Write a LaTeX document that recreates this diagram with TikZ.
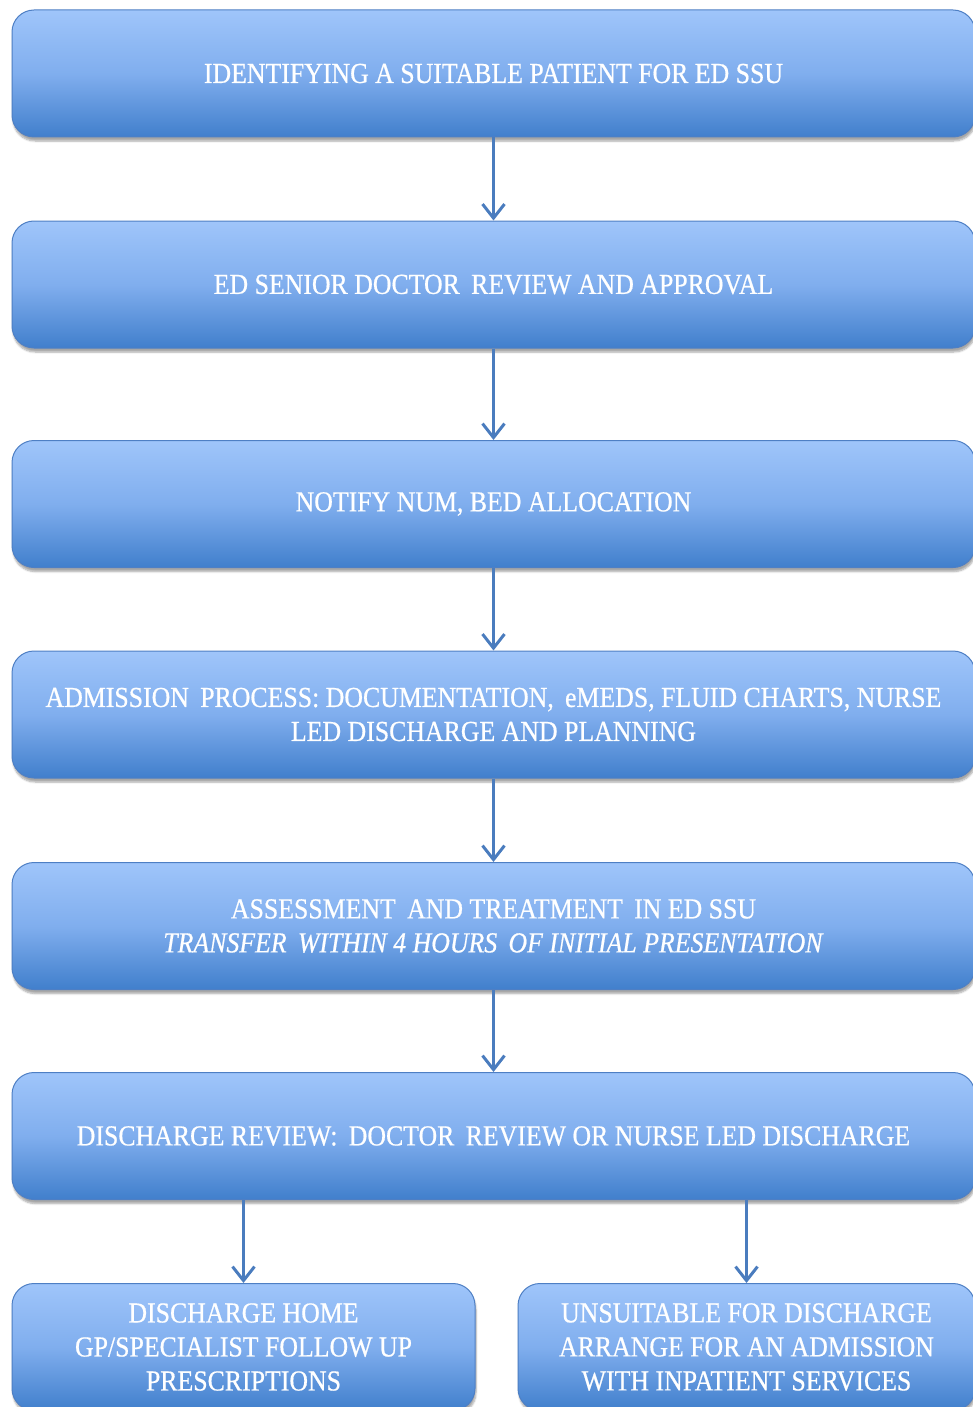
\documentclass[tikz,border=0pt]{standalone}
\usepackage{fontspec}
\setmainfont{Liberation Serif}[FakeStretch=0.89, FakeBold=0.6]
\usetikzlibrary{arrows.meta,shadows.blur}

\definecolor{boxtop}{HTML}{9FC5FA}
\definecolor{boxmid}{HTML}{80AEEE}
\definecolor{boxbot}{HTML}{417FCC}
\definecolor{boxedge}{HTML}{4E7FC4}
\definecolor{flowline}{HTML}{4A7CBE}

\tikzset{
	stage/.style={rectangle, rounded corners=22pt, draw=boxedge, line width=1pt,
		top color=boxtop, bottom color=boxbot, middle color=boxmid,
		text=white, font=\fontsize{29}{34}\selectfont, align=center,
		minimum height=127pt, inner sep=0pt,
		blur shadow={shadow xshift=1pt, shadow yshift=-4pt, shadow blur steps=6, shadow opacity=35}},
	flow/.style={draw=flowline, line width=3pt, -{Straight Barb[length=14pt,width=22pt]}}
}

\begin{document}
\begin{tikzpicture}[x=1pt, y=-1pt]
	\def\fullW{963pt} % width of the wide boxes
	\def\midX{493.5} % centre line of the chain
	
	\useasboundingbox (0,0) rectangle (973,1407);
	\clip (0,0) rectangle (973,1407);
	
	% Main chain of stages
	\node[stage, minimum width=\fullW] (id) at (\midX,73.5)
		{IDENTIFYING A SUITABLE PATIENT FOR ED SSU};
	\node[stage, minimum width=\fullW] (review) at (\midX,284.5)
		{ED SENIOR DOCTOR\, REVIEW AND APPROVAL};
	\node[stage, minimum width=\fullW] (bed) at (\midX,504)
		{NOTIFY NUM, BED ALLOCATION};
	\node[stage, minimum width=\fullW] (admit) at (\midX,714.5)
		{ADMISSION\, PROCESS: DOCUMENTATION,\, eMEDS, FLUID CHARTS, NURSE\\LED DISCHARGE AND PLANNING};
	\node[stage, minimum width=\fullW] (assess) at (\midX,926)
		{ASSESSMENT\, AND TREATMENT\, IN ED SSU\\\textit{TRANSFER\, WITHIN 4 HOURS\, OF INITIAL PRESENTATION}};
	\node[stage, minimum width=\fullW] (dreview) at (\midX,1136)
		{DISCHARGE REVIEW:\, DOCTOR\, REVIEW OR NURSE LED DISCHARGE};
	
	% The two outcomes
	\node[stage, minimum width=463pt] (home) at (243.5,1347)
		{DISCHARGE HOME\\GP/SPECIALIST FOLLOW UP\\PRESCRIPTIONS};
	\node[stage, minimum width=457pt] (inpat) at (746.5,1347)
		{UNSUITABLE FOR DISCHARGE\\ARRANGE FOR AN ADMISSION\\WITH INPATIENT SERVICES};
	
	% Arrows between stages
	\foreach \a/\b in {id/review, review/bed, bed/admit, admit/assess, assess/dreview} {
		\draw[flow] (\a) -- (\b);
	}
	\draw[flow] (dreview.south -| home) -- (home);
	\draw[flow] (dreview.south -| inpat) -- (inpat);
	
\end{tikzpicture}
\end{document}
